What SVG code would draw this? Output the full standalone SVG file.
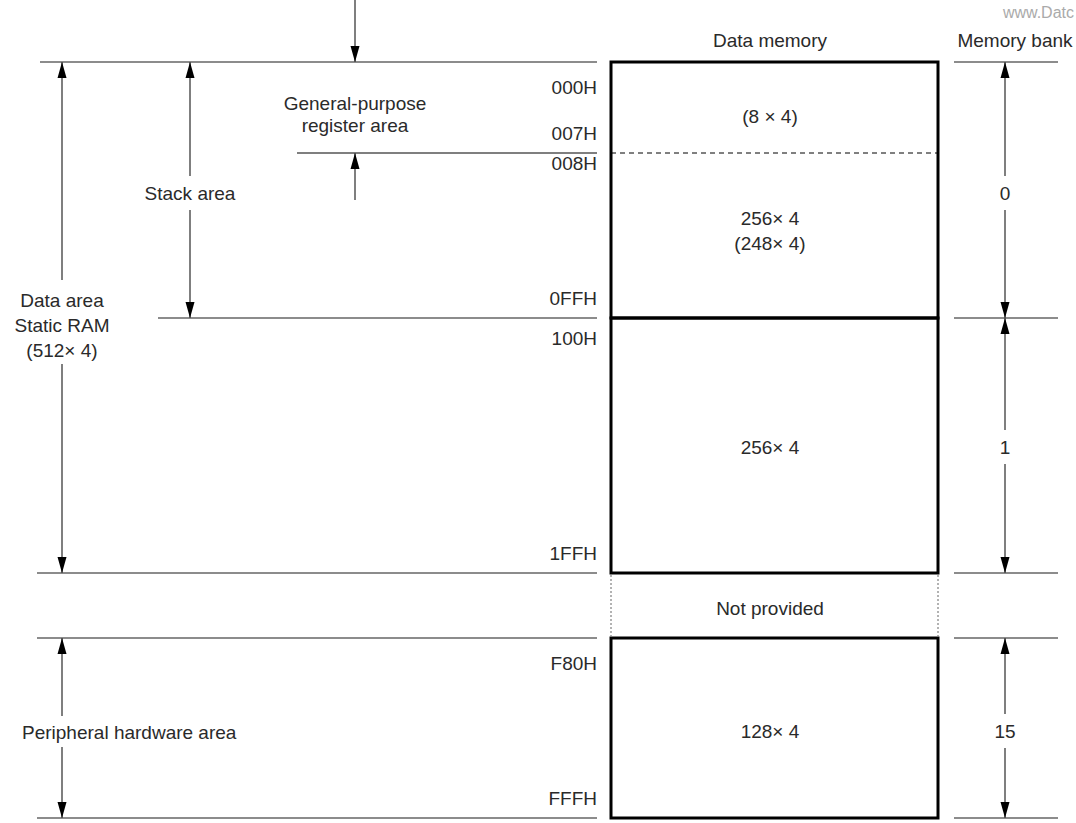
<svg xmlns="http://www.w3.org/2000/svg" width="1076" height="823" viewBox="0 0 1076 823">
<style>
text{font-family:"Liberation Sans",Arial,sans-serif;font-size:19px;fill:#2a2a2a}
.m{text-anchor:middle}
.e{text-anchor:end}
.g{stroke:#666;stroke-width:1.5;fill:none}
.k{stroke:#000;stroke-width:1.2;fill:none}
.box{stroke:#000;stroke-width:3;fill:none}
.a{stroke:#555;stroke-width:1.5;fill:none;marker-end:url(#ah)}
</style>
<defs>
<marker id="ah" markerUnits="userSpaceOnUse" markerWidth="16" markerHeight="10" refX="16" refY="5" orient="auto-start-reverse">
<path d="M0,0.5 L16,5 L0,9.5 z" fill="#000"/>
</marker>
</defs>
<text x="1074" y="18" style="fill:#aaa;font-size:16px;text-anchor:end">www.Datc</text>
<g id="headers">
<text class="m" x="770" y="47">Data memory</text>
<text class="m" x="1015" y="47">Memory bank</text>
</g>
<g id="guides">
<line class="g" x1="40" y1="62" x2="597" y2="62"/>
<line class="k" x1="297" y1="153" x2="597" y2="153"/>
<line class="g" x1="158" y1="318" x2="597" y2="318"/>
<line class="g" x1="37" y1="573" x2="597" y2="573"/>
<line class="g" x1="37" y1="638" x2="597" y2="638"/>
<line class="g" x1="37" y1="818" x2="597" y2="818"/>
<line class="g" x1="954" y1="62" x2="1058" y2="62"/>
<line class="g" x1="954" y1="318" x2="1058" y2="318"/>
<line class="g" x1="954" y1="573" x2="1058" y2="573"/>
<line class="g" x1="954" y1="638" x2="1058" y2="638"/>
<line class="g" x1="954" y1="818" x2="1058" y2="818"/>
</g>
<g id="memory-bank0">
<rect class="box" x="611" y="62" width="327" height="256"/>
<line x1="611" y1="153" x2="938" y2="153" stroke="#000" stroke-width="1" stroke-dasharray="5,4"/>
<text class="m" x="770" y="123">(8 × 4)</text>
<text class="m" x="770" y="225">256× 4</text>
<text class="m" x="770" y="250">(248× 4)</text>
</g>
<g id="memory-bank1">
<rect class="box" x="611" y="318" width="327" height="255"/>
<text class="m" x="770" y="454">256× 4</text>
</g>
<g id="not-provided">
<line x1="611" y1="575" x2="611" y2="636" stroke="#666" stroke-width="1" stroke-dasharray="2,2"/>
<line x1="938" y1="575" x2="938" y2="636" stroke="#666" stroke-width="1" stroke-dasharray="2,2"/>
<text class="m" x="770" y="615">Not provided</text>
</g>
<g id="memory-bank15">
<rect class="box" x="611" y="638" width="327" height="180"/>
<text class="m" x="770" y="738">128× 4</text>
</g>
<g id="addresses">
<text class="e" x="597" y="94">000H</text>
<text class="e" x="597" y="140">007H</text>
<text class="e" x="597" y="170">008H</text>
<text class="e" x="597" y="305">0FFH</text>
<text class="e" x="597" y="345">100H</text>
<text class="e" x="597" y="560">1FFH</text>
<text class="e" x="597" y="670">F80H</text>
<text class="e" x="597" y="805">FFFH</text>
</g>
<g id="labels">
<text class="m" x="355" y="110">General-purpose</text>
<text class="m" x="355" y="132">register area</text>
<text class="m" x="190" y="200">Stack area</text>
<text class="m" x="62" y="307">Data area</text>
<text class="m" x="62" y="332">Static RAM</text>
<text class="m" x="62" y="357">(512× 4)</text>
<text x="22" y="739">Peripheral hardware area</text>
<text class="m" x="1005" y="200">0</text>
<text class="m" x="1005" y="454">1</text>
<text class="m" x="1005" y="738">15</text>
</g>
<g id="connectors">
<line class="a" x1="355" y1="0" x2="355" y2="62"/>
<line class="a" x1="355" y1="200" x2="355" y2="153"/>
<line class="a" x1="190" y1="176" x2="190" y2="62"/>
<line class="a" x1="190" y1="210" x2="190" y2="318"/>
<line class="a" x1="62" y1="280" x2="62" y2="62"/>
<line class="a" x1="62" y1="364" x2="62" y2="573"/>
<line class="a" x1="62" y1="716" x2="62" y2="638"/>
<line class="a" x1="62" y1="747" x2="62" y2="818"/>
<line class="a" x1="1005" y1="176" x2="1005" y2="62"/>
<line class="a" x1="1005" y1="210" x2="1005" y2="318"/>
<line class="a" x1="1005" y1="430" x2="1005" y2="318"/>
<line class="a" x1="1005" y1="464" x2="1005" y2="573"/>
<line class="a" x1="1005" y1="714" x2="1005" y2="638"/>
<line class="a" x1="1005" y1="748" x2="1005" y2="818"/>
</g>
</svg>
